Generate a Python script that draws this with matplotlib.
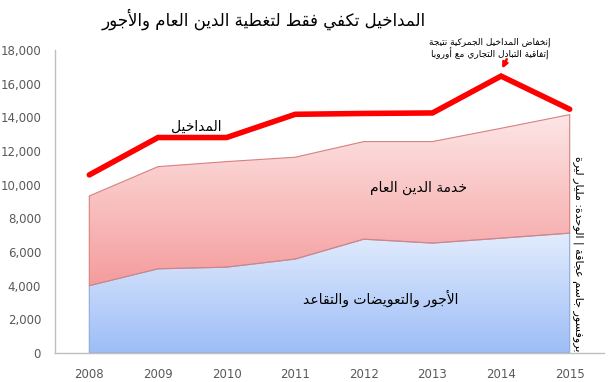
import numpy as np
import matplotlib
matplotlib.use("Agg")
import matplotlib.pyplot as plt
from matplotlib.colors import LinearSegmentedColormap

years = [2008, 2009, 2010, 2011, 2012, 2013, 2014, 2015]
wages = [4000, 5000, 5100, 5580, 6760, 6530, 6820, 7120]
debt_service = [5330, 6070, 6270, 6050, 5800, 6030, 6530, 7040]
revenues = [10580, 12800, 12800, 14180, 14230, 14260, 16450, 14480]

title = "المداخيل تكفي فقط لتغطية الدين العام والأجور"
label_revenues = "المداخيل"
label_debt = "خدمة الدين العام"
label_wages = "الأجور والتعويضات والتقاعد"
note_lines = ["إنخفاض المداخيل الجمركية نتيجة", "إتفاقية التبادل التجاري مع أوروبا"]
source = "بروفسور جاسم عجاقة | الوحدة: مليار ليرة"

# presentation forms: isolated, final, initial, medial
FORMS = {
    'ء': (0xFE80,), 'آ': (0xFE81, 0xFE82), 'أ': (0xFE83, 0xFE84),
    'ؤ': (0xFE85, 0xFE86), 'إ': (0xFE87, 0xFE88),
    'ئ': (0xFE89, 0xFE8A, 0xFE8B, 0xFE8C), 'ا': (0xFE8D, 0xFE8E),
    'ب': (0xFE8F, 0xFE90, 0xFE91, 0xFE92), 'ة': (0xFE93, 0xFE94),
    'ت': (0xFE95, 0xFE96, 0xFE97, 0xFE98), 'ث': (0xFE99, 0xFE9A, 0xFE9B, 0xFE9C),
    'ج': (0xFE9D, 0xFE9E, 0xFE9F, 0xFEA0), 'ح': (0xFEA1, 0xFEA2, 0xFEA3, 0xFEA4),
    'خ': (0xFEA5, 0xFEA6, 0xFEA7, 0xFEA8), 'د': (0xFEA9, 0xFEAA),
    'ذ': (0xFEAB, 0xFEAC), 'ر': (0xFEAD, 0xFEAE), 'ز': (0xFEAF, 0xFEB0),
    'س': (0xFEB1, 0xFEB2, 0xFEB3, 0xFEB4), 'ش': (0xFEB5, 0xFEB6, 0xFEB7, 0xFEB8),
    'ص': (0xFEB9, 0xFEBA, 0xFEBB, 0xFEBC), 'ض': (0xFEBD, 0xFEBE, 0xFEBF, 0xFEC0),
    'ط': (0xFEC1, 0xFEC2, 0xFEC3, 0xFEC4), 'ظ': (0xFEC5, 0xFEC6, 0xFEC7, 0xFEC8),
    'ع': (0xFEC9, 0xFECA, 0xFECB, 0xFECC), 'غ': (0xFECD, 0xFECE, 0xFECF, 0xFED0),
    'ف': (0xFED1, 0xFED2, 0xFED3, 0xFED4), 'ق': (0xFED5, 0xFED6, 0xFED7, 0xFED8),
    'ك': (0xFED9, 0xFEDA, 0xFEDB, 0xFEDC), 'ل': (0xFEDD, 0xFEDE, 0xFEDF, 0xFEE0),
    'م': (0xFEE1, 0xFEE2, 0xFEE3, 0xFEE4), 'ن': (0xFEE5, 0xFEE6, 0xFEE7, 0xFEE8),
    'ه': (0xFEE9, 0xFEEA, 0xFEEB, 0xFEEC), 'و': (0xFEED, 0xFEEE),
    'ى': (0xFEEF, 0xFEF0), 'ي': (0xFEF1, 0xFEF2, 0xFEF3, 0xFEF4),
}
LAM_ALEF = {'آ': (0xFEF5, 0xFEF6), 'أ': (0xFEF7, 0xFEF8),
            'إ': (0xFEF9, 0xFEFA), 'ا': (0xFEFB, 0xFEFC)}


def shape(text):
    # join letters into presentation forms, then reverse for RTL display
    chars = list(text)
    out = []
    i = 0
    n = len(chars)
    while i < n:
        c = chars[i]
        prev = chars[i - 1] if i > 0 else None
        joins_prev = prev in FORMS and len(FORMS[prev]) == 4
        if c == 'ل' and i + 1 < n and chars[i + 1] in LAM_ALEF:
            iso, fin = LAM_ALEF[chars[i + 1]]
            out.append(chr(fin if joins_prev else iso))
            i += 2
            continue
        if c not in FORMS:
            out.append(c)
            i += 1
            continue
        f = FORMS[c]
        nxt = chars[i + 1] if i + 1 < n else None
        joins_next = len(f) == 4 and nxt in FORMS
        if len(f) == 1:
            code = f[0]
        elif joins_prev and joins_next:
            code = f[3]
        elif joins_prev:
            code = f[1]
        elif joins_next:
            code = f[2]
        else:
            code = f[0]
        out.append(chr(code))
        i += 1
    return ''.join(reversed(out))


plt.rcParams['font.family'] = ['DejaVu Sans']

fig = plt.figure(figsize=(6.12, 3.82), dpi=100)
ax = fig.add_axes([55 / 612, 1 - 353 / 382, 549 / 612, 303 / 382])

x = np.array(years)
w = np.array(wages)
top = w + np.array(debt_service)

blue_cmap = LinearSegmentedColormap.from_list("b", ["#9dbdf7", "#e2ecfd"])
red_cmap = LinearSegmentedColormap.from_list("r", ["#f59c9c", "#fde6e6"])

poly_b = ax.fill_between(x, 0, w, facecolor='none', edgecolor='#8fa9d8', lw=0.8, zorder=2)
poly_r = ax.fill_between(x, w, top, facecolor='none', edgecolor='#d98080', lw=0.8, zorder=2)

grad = np.linspace(0, 1, 256).reshape(-1, 1)
im_b = ax.imshow(grad, cmap=blue_cmap, origin='lower', aspect='auto',
                 extent=[x[0], x[-1], 0, w.max()], zorder=1)
im_b.set_clip_path(poly_b.get_paths()[0], transform=ax.transData)
im_r = ax.imshow(grad, cmap=red_cmap, origin='lower', aspect='auto',
                 extent=[x[0], x[-1], w.min(), top.max()], zorder=1)
im_r.set_clip_path(poly_r.get_paths()[0], transform=ax.transData)

ax.plot(x, revenues, color='#ff0000', lw=4.0, solid_capstyle='round',
        solid_joinstyle='miter', zorder=3)

ax.set_xlim(2007.5, 2015.5)
ax.set_ylim(0, 18000)
ax.set_xticks(years)
ax.set_yticks(np.arange(0, 18001, 2000))
ax.yaxis.set_major_formatter(matplotlib.ticker.StrMethodFormatter('{x:,.0f}'))
ax.tick_params(length=0, labelsize=8.5, labelcolor='#595959')
ax.tick_params(axis='y', pad=10)
ax.tick_params(axis='x', pad=11)
for s in ['top', 'right']:
    ax.spines[s].set_visible(False)
for s in ['left', 'bottom']:
    ax.spines[s].set_color('#bfbfbf')
    ax.spines[s].set_linewidth(1.0)

fig.text(264 / 612, 1 - 19 / 382, shape(title), ha='center', va='center', fontsize=12)

ax.text(2009.56, 13430, shape(label_revenues), ha='center', va='center', fontsize=10)
ax.text(2012.8, 9800, shape(label_debt), ha='center', va='center', fontsize=10)
ax.text(2012.24, 3270, shape(label_wages), ha='center', va='center', fontsize=10)

fig.text(490 / 612, 1 - 42 / 382, shape(note_lines[0]), ha='center', va='center', fontsize=6.5)
fig.text(490 / 612, 1 - 54 / 382, shape(note_lines[1]), ha='center', va='center', fontsize=6.5)
ax.annotate('', xy=(2014, 16750), xytext=(2014.1, 17600),
            arrowprops=dict(arrowstyle='-|>', color='#ff0000', lw=1.8,
                            mutation_scale=8))

fig.text(578 / 612, 1 - 352 / 382, shape(source), rotation=270,
         ha='center', va='bottom', fontsize=8)

fig.savefig("out.png", dpi=100)
